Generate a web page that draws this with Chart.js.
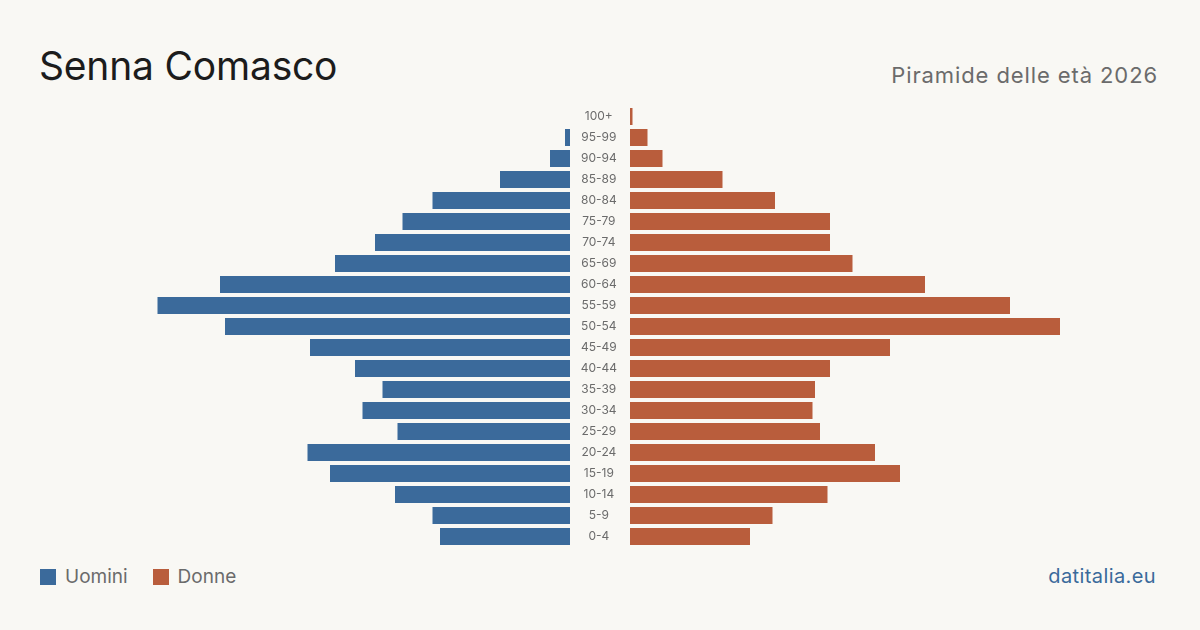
<!DOCTYPE html>
<html lang="it">
<head>
<meta charset="utf-8">
<title>Senna Comasco - Piramide delle età 2026</title>
<script src="https://cdn.jsdelivr.net/npm/chart.js@4/dist/chart.umd.min.js"></script>
<style>
  html, body { margin: 0; padding: 0; }
  body {
    width: 1200px; height: 630px; position: relative; overflow: hidden;
    background: #f9f8f4; font-family: Inter, "Noto Sans", sans-serif;
  }
  #title { position: absolute; left: 39px; top: 42px; font-size: 39px; color: #1c1c1c; letter-spacing: -0.2px; }
  #subtitle { position: absolute; right: 42px; top: 62px; font-size: 22px; color: #6b6b6b; letter-spacing: 0.9px; }
  #legend { position: absolute; left: 40px; top: 565px; font-size: 19px; color: #6b6b6b; display: flex; align-items: center; }
  #legend span.sw { display: inline-block; width: 16px; height: 16px; margin-right: 9px; }
  #legend span.item { display: flex; align-items: center; margin-right: 25px; }
  #source { position: absolute; right: 44px; top: 564px; font-size: 20px; color: #3a6a9b; letter-spacing: 0.4px; }
  #left { position: absolute; left: 0; top: 106px; }
  #right { position: absolute; left: 570px; top: 106px; }
</style>
</head>
<body>
<div id="title">Senna Comasco</div>
<div id="subtitle">Piramide delle età 2026</div>
<canvas id="left" width="570" height="441"></canvas>
<canvas id="right" width="630" height="441"></canvas>
<div id="legend">
  <span class="item"><span class="sw" style="background:#3b6a9b"></span>Uomini</span>
  <span class="item"><span class="sw" style="background:#b95d3c"></span>Donne</span>
</div>
<div id="source">datitalia.eu</div>
<script>
// fasce d'età, dalla più giovane alla più anziana
const ageGroups = ['0-4', '5-9', '10-14', '15-19', '20-24', '25-29', '30-34', '35-39', '40-44', '45-49',
  '50-54', '55-59', '60-64', '65-69', '70-74', '75-79', '80-84', '85-89', '90-94', '95-99', '100+'];
const men = [52, 55, 70, 96, 105, 69, 83, 75, 86, 104, 138, 165, 140, 94, 78, 67, 55, 28, 8, 2, 0];
const women = [48, 57, 79, 108, 98, 76, 73, 74, 80, 104, 172, 152, 118, 89, 80, 80, 58, 37, 13, 7, 1];
const axisMax = 228;

const blue = '#3b6a9b';
const orange = '#b95d3c';

function baseOptions(reverseX) {
    return {
        indexAxis: 'y',
        responsive: false,
        animation: false,
        devicePixelRatio: 1,
        layout: { padding: 0 },
        plugins: { legend: { display: false }, tooltip: { enabled: false } },
        scales: {
            x: { display: false, min: 0, max: axisMax, reverse: reverseX },
            y: { display: false, reverse: true }
        }
    };
}

function dataset(values, color) {
    return {
        data: values,
        backgroundColor: color,
        borderWidth: 0,
        categoryPercentage: 1,
        barPercentage: 0.81
    };
}

// uomini a sinistra, asse rovesciato
new Chart(document.getElementById('left'), {
    type: 'bar',
    data: { labels: ageGroups, datasets: [dataset(men, blue)] },
    options: baseOptions(true)
});

// donne a destra, con le etichette delle fasce al centro
const rightOptions = baseOptions(false);
rightOptions.scales.y = {
    display: true,
    reverse: true,
    grid: { display: false, drawTicks: false },
    border: { display: false },
    ticks: {
        crossAlign: 'center',
        padding: 13,
        color: '#6b6b6b',
        font: { family: 'Inter', size: 12 }
    },
    afterFit: function(scale) {
        scale.width = 60;
        // niente margine verticale extra per le etichette
        scale.paddingTop = 0;
        scale.paddingBottom = 0;
    }
};
new Chart(document.getElementById('right'), {
    type: 'bar',
    data: { labels: ageGroups, datasets: [dataset(women, orange)] },
    options: rightOptions
});
</script>
</body>
</html>
